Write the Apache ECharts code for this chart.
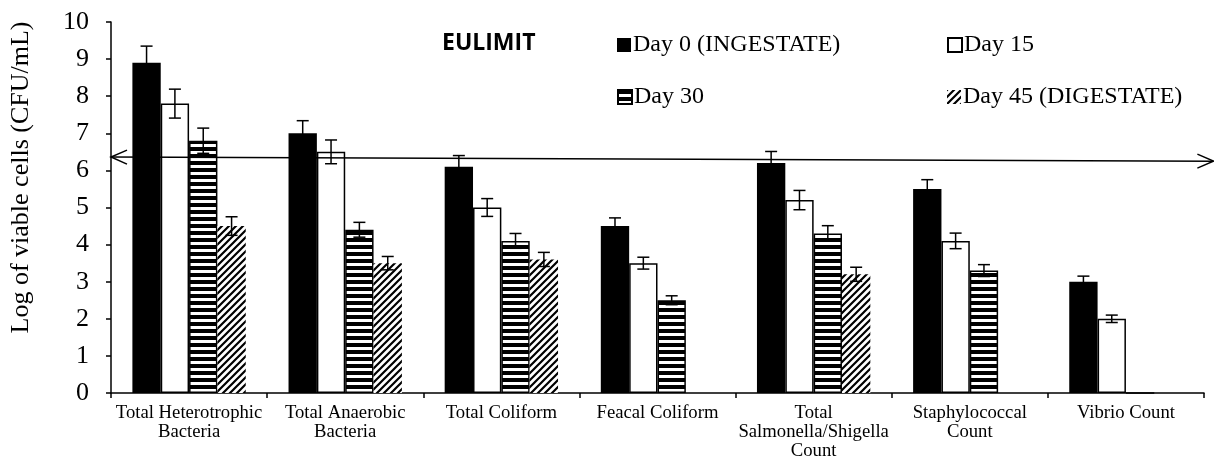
<!DOCTYPE html>
<html>
<head>
<meta charset="utf-8">
<title>Log of viable cells</title>
<script src="https://cdn.jsdelivr.net/npm/echarts@6/dist/echarts.min.js"></script>
<style>
  html, body { margin: 0; padding: 0; background: #fff; }
  #chart { width: 1214px; height: 466px; }
</style>
</head>
<body>
<div id="chart"></div>
<script>
// categories and values
const categories = [
  'Total Heterotrophic\nBacteria',
  'Total Anaerobic\nBacteria',
  'Total Coliform',
  'Feacal Coliform',
  'Total\nSalmonella/Shigella\nCount',
  'Staphylococcal\nCount',
  'Vibrio Count'
];
const seriesNames = ['Day 0 (INGESTATE)', 'Day 15', 'Day 30', 'Day 45 (DIGESTATE)'];
const day0 = [8.9, 7.0, 6.1, 4.5, 6.2, 5.5, 3.0];
const day15 = [7.8, 6.5, 5.0, 3.5, 5.2, 4.1, 2.0];
const day30 = [6.8, 4.4, 4.1, 2.5, 4.3, 3.3, 0];
const day45 = [4.5, 3.5, 3.6, 0, 3.2, 0, 0];
// error bar half-lengths
const err0 = [0.45, 0.34, 0.3, 0.22, 0.31, 0.25, 0.15];
const err15 = [0.39, 0.32, 0.24, 0.16, 0.26, 0.21, 0.1];
const err30 = [0.34, 0.2, 0.2, 0.12, 0.21, 0.16, 0];
const err45 = [0.25, 0.18, 0.19, 0, 0.19, 0, 0];
// EU limit arrow, [x on 0..7 scale, log value] for both tips
const limitStart = [0, 6.36];
const limitEnd = [7.06, 6.25];

const serif = "'Liberation Serif', 'Times New Roman', serif";
const GAP = 0.274;

// fill patterns
function stripes() {
  const c = document.createElement('canvas');
  c.width = 8; c.height = 7;
  const g = c.getContext('2d');
  g.fillStyle = '#fff'; g.fillRect(0, 0, 8, 7);
  g.fillStyle = '#000'; g.fillRect(0, 0, 8, 4);
  return { image: c, repeat: 'repeat' };
}
function hatch() {
  const c = document.createElement('canvas');
  c.width = 7; c.height = 7;
  const g = c.getContext('2d');
  g.fillStyle = '#fff'; g.fillRect(0, 0, 7, 7);
  g.strokeStyle = '#000'; g.lineWidth = 2.2;
  g.beginPath();
  g.moveTo(-1, 8); g.lineTo(8, -1);
  g.moveTo(-2, 2); g.lineTo(2, -2);
  g.moveTo(5, 9); g.lineTo(9, 5);
  g.stroke();
  return { image: c, repeat: 'repeat' };
}

const styles = [
  { color: '#000' },
  { color: '#fff', borderColor: '#000', borderWidth: 1.5 },
  { color: stripes(), borderColor: '#000', borderWidth: 1.5 },
  { color: hatch() }
];
const values = [day0, day15, day30, day45];
const errors = [err0, err15, err30, err45];

let chart = echarts.init(document.getElementById('chart'));

let series = [];
values.forEach((vals, k) => {
  series.push({
    name: seriesNames[k],
    type: 'bar',
    data: vals,
    barGap: '0%',
    barCategoryGap: (GAP * 100) + '%',
    itemStyle: styles[k],
    z: 2
  });
});
// error bars
values.forEach((vals, k) => {
  series.push({
    type: 'custom',
    z: 5,
    silent: true,
    data: vals.map((v, i) => [i, v, errors[k][i]]),
    encode: { x: 0, y: 1 },
    renderItem: function (params, api) {
      const i = api.value(0), v = api.value(1), e = api.value(2);
      if (!e) return;
      const band = api.size([1, 0])[0];
      const bw = band * (1 - GAP) / 4;
      const c = api.coord([i, v]);
      const cx = c[0] + (k - 1.5) * bw;
      const top = api.coord([i, v + e])[1];
      const bot = api.coord([i, v - e])[1];
      const cap = 6;
      const st = { stroke: '#000', lineWidth: 1.5 };
      return {
        type: 'group',
        children: [
          { type: 'line', shape: { x1: cx, y1: top, x2: cx, y2: bot }, style: st },
          { type: 'line', shape: { x1: cx - cap, y1: top, x2: cx + cap, y2: top }, style: st },
          { type: 'line', shape: { x1: cx - cap, y1: bot, x2: cx + cap, y2: bot }, style: st }
        ]
      };
    }
  });
});
// EU limit double arrow
series.push({
  type: 'custom',
  xAxisIndex: 1,
  z: 6,
  silent: true,
  clip: false,
  data: [[limitStart[0], limitStart[1], limitEnd[0], limitEnd[1]]],
  encode: { x: [0, 2], y: [1, 3] },
  renderItem: function (params, api) {
    const a = api.coord([api.value(0), api.value(1)]);
    const b = api.coord([api.value(2), api.value(3)]);
    const dx = b[0] - a[0], dy = b[1] - a[1];
    const len = Math.sqrt(dx * dx + dy * dy);
    const ux = dx / len, uy = dy / len;
    const L = 16, W = 7;
    const st = { stroke: '#000', lineWidth: 1.5, fill: null };
    function head(p, s) {
      // s = +1 head at b (pointing forward), -1 head at a
      const bx = p[0] - s * ux * L, by = p[1] - s * uy * L;
      return {
        type: 'polyline',
        shape: { points: [[bx - uy * W, by + ux * W], p, [bx + uy * W, by - ux * W]] },
        style: st
      };
    }
    return {
      type: 'group',
      children: [
        { type: 'line', shape: { x1: a[0], y1: a[1], x2: b[0], y2: b[1] }, style: st },
        head(a, -1),
        head(b, 1)
      ]
    };
  }
});

function legendAt(name, left, top) {
  return {
    data: [name],
    left: left,
    top: top,
    icon: 'rect',
    itemWidth: 14,
    itemHeight: 14,
    padding: 0,
    selectedMode: false,
    textStyle: { fontFamily: serif, fontSize: 24, color: '#000', padding: [0, 0, 0, -3] }
  };
}

let option = {
  animation: false,
  backgroundColor: '#fff',
  title: {
    text: 'EULIMIT',
    left: 442,
    top: 32,
    padding: 0,
    textStyle: { fontFamily: "'Open Sans', sans-serif", fontWeight: 'bold', fontSize: 23, color: '#000' }
  },
  legend: [
    legendAt(seriesNames[0], 617, 33),
    legendAt(seriesNames[1], 947, 33),
    legendAt(seriesNames[2], 617, 85),
    legendAt(seriesNames[3], 947, 85)
  ],
  grid: { left: 111, right: 10, top: 22, bottom: 73 },
  xAxis: [
    {
      type: 'category',
      data: categories,
      axisLine: { lineStyle: { color: '#000', width: 1.5 } },
      axisTick: { show: true, length: 5, lineStyle: { color: '#000', width: 1.5 } },
      axisLabel: {
        interval: 0,
        margin: 11,
        color: '#000',
        fontFamily: serif,
        fontSize: 18.7,
        lineHeight: 19
      }
    },
    { type: 'value', show: false, min: 0, max: 7 }
  ],
  yAxis: {
    type: 'value',
    min: 0,
    max: 10,
    interval: 1,
    name: 'Log of viable cells (CFU/mL)',
    nameLocation: 'middle',
    nameGap: 77,
    nameTextStyle: { fontFamily: serif, fontSize: 26, color: '#000', padding: [0, 0, 0, 60] },
    axisLine: { show: true, lineStyle: { color: '#000', width: 1.5 } },
    axisTick: { show: true, length: 5, lineStyle: { color: '#000', width: 1.5 } },
    splitLine: { show: false },
    axisLabel: { color: '#000', fontFamily: serif, fontSize: 26, margin: 22 }
  },
  series: series
};

chart.setOption(option);
window.addEventListener('resize', () => { chart.resize() });
</script>
</body>
</html>
